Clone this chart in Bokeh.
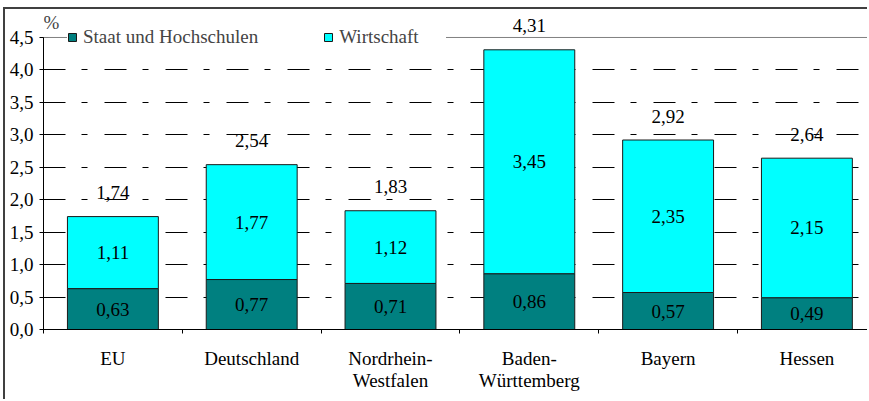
from bokeh.plotting import figure
from bokeh.models import FixedTicker, Range1d, Span, Label, ColumnDataSource, Legend, LegendItem
from bokeh.core.properties import value
from bokeh.embed import file_html
from bokeh.resources import INLINE

# ---- data ----
categories = ["EU", "Deutschland", "Nordrhein-\nWestfalen", "Baden-\nWürttemberg", "Bayern", "Hessen"]
staat = [0.63, 0.77, 0.71, 0.86, 0.57, 0.49]
wirtschaft = [1.11, 1.77, 1.12, 3.45, 2.35, 2.15]
series_names = ["Staat und Hochschulen", "Wirtschaft"]
y_ticks = [0.0, 0.5, 1.0, 1.5, 2.0, 2.5, 3.0, 3.5, 4.0, 4.5]
y_tick_labels = ["0,0", "0,5", "1,0", "1,5", "2,0", "2,5", "3,0", "3,5", "4,0", "4,5"]
grid_ticks = [0.5, 1.0, 1.5, 2.0, 2.5, 3.0, 3.5, 4.0]
y_max = 4.5
unit_label = "%"

colors = ["#008080", "#00FFFF"]
FONT = "Liberation Serif"
FS = "19px"


def fmt(v):
    return f"{v:.2f}".replace(".", ",")


n = len(categories)
xc = [i + 0.5 for i in range(n)]
totals = [round(a + b, 2) for a, b in zip(staat, wirtschaft)]

src = ColumnDataSource(dict(
    x=xc,
    s_bot=[0.0] * n,
    s_top=staat,
    w_bot=staat,
    w_top=totals,
    s_mid=[v / 2 for v in staat],
    w_mid=[a + b / 2 for a, b in zip(staat, wirtschaft)],
    s_txt=[fmt(v) for v in staat],
    w_txt=[fmt(v) for v in wirtschaft],
    t_txt=[fmt(v) for v in totals],
    tot=totals,
))

p = figure(width=864, height=392, output_backend="svg", toolbar_location=None,
           x_range=Range1d(0, 5.951), y_range=Range1d(0, 4.931),
           min_border_left=38, min_border_right=0, min_border_top=0, min_border_bottom=72)
p.styles = {"border-left": "2px solid #404040", "border-top": "2px solid #404040",
            "margin-left": "3px", "margin-top": "7px"}
p.outline_line_color = None
p.background_fill_color = "white"
p.border_fill_color = "white"

# grid
p.xgrid.visible = False
p.ygrid.ticker = FixedTicker(ticks=grid_ticks)
p.ygrid.grid_line_color = "black"
p.ygrid.grid_line_width = 1
p.ygrid.grid_line_dash = "22 16 6 17"

p.add_layout(Span(location=y_max, dimension="width", line_color="#808080", line_width=1))

# bars
r1 = p.vbar(x="x", bottom="s_bot", top="s_top", width=0.655, source=src,
            fill_color=colors[0], line_color="#1a1a1a", line_width=1)
r2 = p.vbar(x="x", bottom="w_bot", top="w_top", width=0.655, source=src,
            fill_color=colors[1], line_color="#1a1a1a", line_width=1)

# labels
common = dict(text_font=value(FONT), text_font_size=FS, text_color="black",
              text_align="center", text_baseline="middle", source=src)
p.text(x="x", y="s_mid", text="s_txt", **common)
p.text(x="x", y="w_mid", text="w_txt", **common)
p.text(x="x", y="tot", text="t_txt", y_offset=-24, **common)

# axes
yax = p.yaxis[0]
yax.ticker = FixedTicker(ticks=y_ticks)
yax.bounds = (0, y_max)
yax.major_label_overrides = {t: l for t, l in zip(y_ticks, y_tick_labels)}
yax.major_label_text_font = FONT
yax.major_label_text_font_size = FS
yax.major_label_text_font_style = "normal"
yax.major_label_text_color = "black"
yax.major_tick_in = 5
yax.major_tick_out = 4
yax.major_tick_line_color = "black"
yax.minor_tick_line_color = None
yax.axis_line_color = "black"
yax.major_label_standoff = 6

xax = p.xaxis[0]
xax.ticker = FixedTicker(ticks=xc, minor_ticks=list(range(n + 1)))
xax.major_label_overrides = {t: c for t, c in zip(xc, categories)}
xax.major_label_text_font = FONT
xax.major_label_text_font_size = FS
xax.major_label_text_font_style = "normal"
xax.major_label_text_line_height = 1.05
xax.major_label_text_color = "black"
xax.major_tick_in = 0
xax.major_tick_out = 0
xax.minor_tick_in = 0
xax.minor_tick_out = 4
xax.minor_tick_line_color = "black"
xax.axis_line_color = "black"
xax.major_label_standoff = 14

p.add_layout(Label(x=0, y=y_max, text=unit_label, text_font=FONT, text_font_size=FS,
                   text_align="left", text_baseline="middle", x_offset=0, y_offset=15))

legend = Legend(items=[LegendItem(label=series_names[0], renderers=[r1]),
                       LegendItem(label=series_names[1], renderers=[r2])],
                orientation="horizontal", location=(24, 281),
                background_fill_color="white", background_fill_alpha=1.0,
                border_line_color=None, label_text_font=FONT, label_text_font_size=FS,
                glyph_width=10, glyph_height=10, label_standoff=6, spacing=65,
                label_width=107, padding=10, margin=0)
p.add_layout(legend, "center")

open("out.html", "w").write(file_html(p, INLINE))
